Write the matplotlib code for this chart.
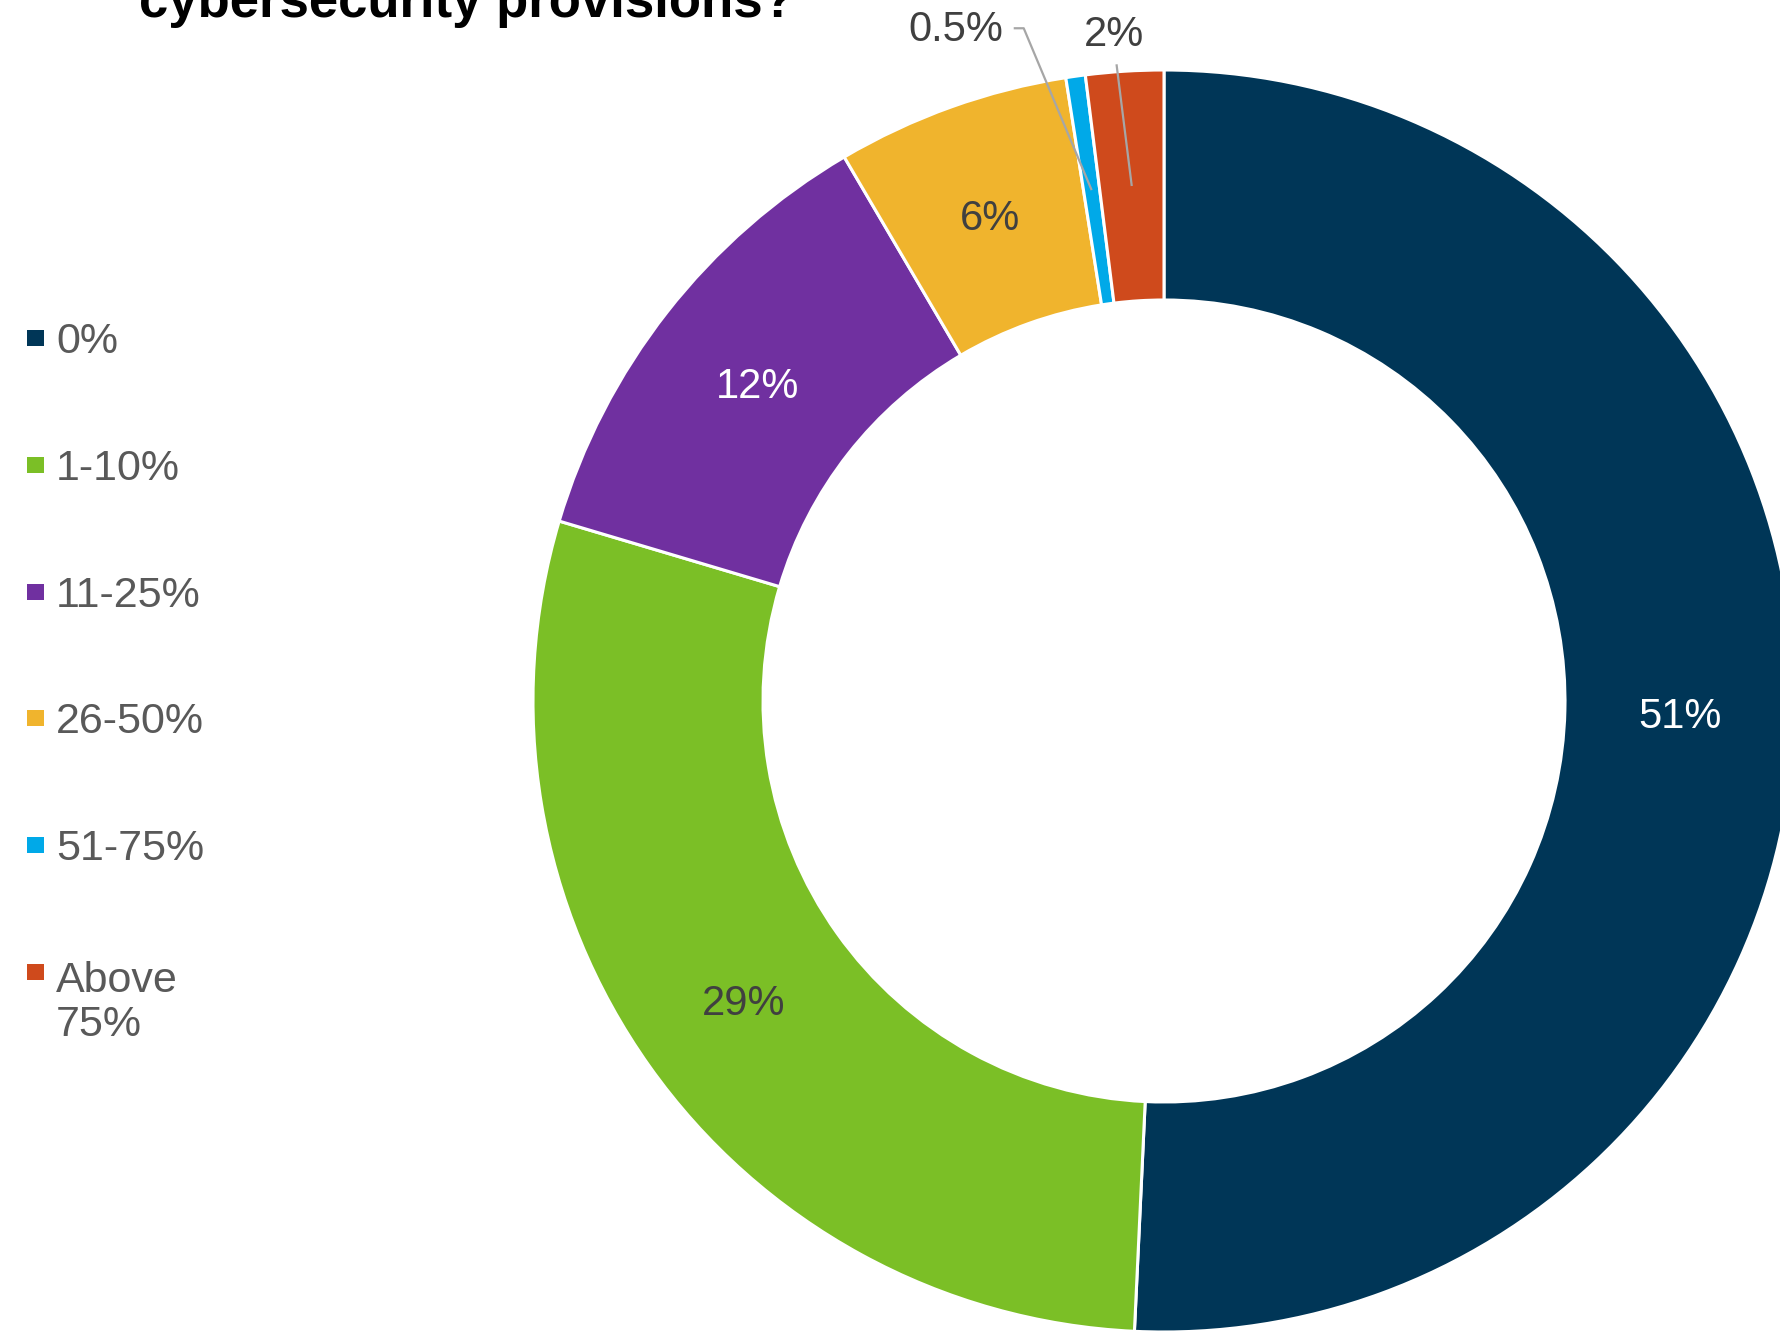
import numpy as np
import matplotlib
matplotlib.use("Agg")
import matplotlib.pyplot as plt
from matplotlib.patches import Rectangle

plt.rcParams["font.family"] = ["Liberation Sans", "DejaVu Sans"]

# Survey shares by band of budget spent on cybersecurity provisions
categories = ["0%", "1-10%", "11-25%", "26-50%", "51-75%", "Above\n75%"]
shares = [51, 29, 12, 6, 0.5, 2]
share_labels = ["51%", "29%", "12%", "6%", "0.5%", "2%"]

colors = ["#003657", "#7BBF26", "#7030A0", "#F0B42D", "#00A9E8", "#CF4A1C"]
label_colors = ["white", "#404040", "white", "#404040", "#404040", "#404040"]

W, H = 1780, 1334
fig = plt.figure(figsize=(W / 100, H / 100), dpi=100)
ax = fig.add_axes([0, 0, 1, 1])

cx, cy = 1164, H - 701
R, ring = 631, 230

wedges, _ = ax.pie(
    shares, colors=colors, startangle=90, counterclock=False,
    radius=R, center=(cx, cy),
    wedgeprops=dict(width=ring, edgecolor="white", linewidth=2.2),
)
ax.set_xlim(0, W)
ax.set_ylim(0, H)
ax.set_aspect("equal")
ax.axis("off")

rm = R - ring / 2
lbl_size = 30
mids = []
for w in wedges:
    th = np.deg2rad((w.theta1 + w.theta2) / 2)
    mids.append((th, cx + rm * np.cos(th), cy + rm * np.sin(th)))

# labels inside the ring for the larger slices
for i in range(4):
    _, px, py = mids[i]
    ax.text(px, py - 4, share_labels[i], ha="center", va="center",
            fontsize=lbl_size, color=label_colors[i])

leader = dict(color="#A6A6A6", lw=1.6, solid_capstyle="butt")

# small slice: 51-75%
th, px, py = mids[4]
lx, ly = cx - 0.254 * R, cy + 1.063 * R
ax.text(lx, ly, share_labels[4], ha="right", va="center",
        fontsize=lbl_size, color=label_colors[4])
ax.plot([lx + 10, lx + 20, px], [ly + 2, ly + 2, py], **leader)

# small slice: Above 75%
th, px, py = mids[5]
lx, ly = cx - 0.08 * R, cy + 1.055 * R
ax.text(lx, ly, share_labels[5], ha="center", va="center",
        fontsize=lbl_size, color=label_colors[5])
ax.plot([lx + 3, px], [ly - 29, py], **leader)

# title line
ax.text(139, H - 17, "cybersecurity provisions?", ha="left", va="baseline",
        fontsize=38, fontweight="bold", color="black")

# legend on the left
row_y0, row_step = 338, 126.8
leg_size = 31
line_px = 49
for i, (cat, col) in enumerate(zip(categories, colors)):
    yc = H - (row_y0 + i * row_step)
    ax.add_patch(Rectangle((27, yc - 8), 17, 16, facecolor=col, edgecolor="none"))
    n_extra = cat.count("\n")
    ax.text(56, yc - 15 - n_extra * line_px, cat, ha="left", va="baseline",
            fontsize=leg_size, color="#595959", linespacing=1.13)

fig.savefig("out.png", dpi=100)
